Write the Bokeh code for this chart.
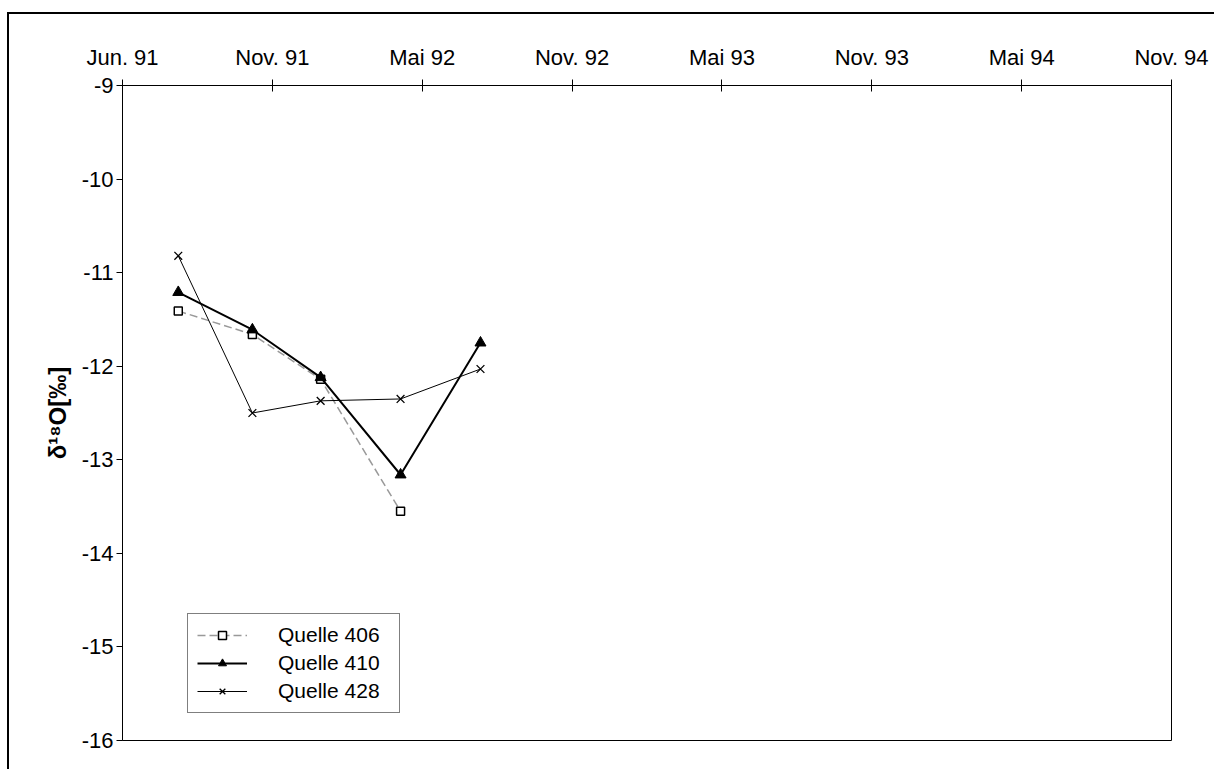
import pandas as pd
from bokeh.plotting import figure
from bokeh.models import Range1d, FixedTicker, Legend, LegendItem
from bokeh.embed import file_html
from bokeh.resources import INLINE

# ---------------- data ----------------
sample_dates = ["1991-08-07", "1991-11-04", "1992-01-25", "1992-04-30", "1992-08-04"]
quelle_406 = [-11.41, -11.66, -12.14, -13.55]          # no value in Aug 92
quelle_410 = [-11.21, -11.61, -12.12, -13.16, -11.75]
quelle_428 = [-10.82, -12.50, -12.37, -12.35, -12.03]

tick_labels = ["Jun. 91", "Nov. 91", "Mai 92", "Nov. 92",
               "Mai 93", "Nov. 93", "Mai 94", "Nov. 94"]
axis_start = "1991-06-01"
tick_step_days = 180
y_ticks = [-16, -15, -14, -13, -12, -11, -10, -9]
y_tick_labels = ["-16", "-15", "-14", "-13", "-12", "-11", "-10", "-9"]
y_title = "δ¹⁸O[‰]"
series_names = ["Quelle 406", "Quelle 410", "Quelle 428"]

# ---------------- helpers ----------------
FONT = "Liberation Sans"
t0 = pd.Timestamp(axis_start)
tick_ms = [float((t0 + pd.Timedelta(days=tick_step_days * i)).value // 10**6)
           for i in range(len(tick_labels))]
x_dates = pd.to_datetime(sample_dates)
d406 = x_dates[:len(quelle_406)]

p = figure(width=1207, height=757, x_axis_type="datetime", x_axis_location="above",
           x_range=Range1d(tick_ms[0], tick_ms[-1]), y_range=Range1d(y_ticks[0], y_ticks[-1]),
           output_backend="svg", toolbar_location=None,
           min_border_left=113, min_border_top=71, min_border_right=45, min_border_bottom=31)
p.styles = {"border-left": "2px solid black", "border-top": "2px solid black",
            "margin-left": "7px", "margin-top": "12px"}

p.grid.visible = False
p.background_fill_color = "white"
p.border_fill_color = "white"
p.outline_line_color = "black"
p.outline_line_width = 1
p.outline_line_alpha = 1

xa = p.xaxis[0]
xa.ticker = FixedTicker(ticks=tick_ms)
xa.major_label_overrides = {t: lab for t, lab in zip(tick_ms, tick_labels)}
xa.major_tick_in = 6
xa.major_tick_out = 6
xa.minor_tick_in = 0
xa.minor_tick_out = 0
xa.axis_line_color = "black"
xa.major_tick_line_color = "black"
xa.major_label_standoff = 10
xa.major_label_text_font = FONT
xa.major_label_text_font_size = "22px"
xa.major_label_text_color = "black"

ya = p.yaxis[0]
ya.ticker = FixedTicker(ticks=[float(t) for t in y_ticks])
ya.major_label_overrides = {float(t): lab for t, lab in zip(y_ticks, y_tick_labels)}
ya.major_tick_in = 0
ya.major_tick_out = 6
ya.minor_tick_in = 0
ya.minor_tick_out = 0
ya.axis_line_color = "black"
ya.major_tick_line_color = "black"
ya.major_label_standoff = 3
ya.major_label_text_font = FONT
ya.major_label_text_font_size = "22px"
ya.major_label_text_color = "black"
ya.axis_label = y_title
ya.axis_label_text_font = FONT
ya.axis_label_text_font_size = "24px"
ya.axis_label_text_font_style = "bold"
ya.axis_label_text_color = "black"
ya.axis_label_standoff = 8

# ---------------- series ----------------
r406l = p.line(d406, quelle_406, line_color="#999999", line_width=1.5, line_dash="8 4")
r406m = p.scatter(d406, quelle_406, marker="square", size=8, fill_color="white",
                  line_color="black", line_width=1.5)
r410l = p.line(x_dates, quelle_410, line_color="black", line_width=2)
r410m = p.scatter(x_dates, quelle_410, marker="triangle", size=11,
                  fill_color="black", line_color="black")
r428l = p.line(x_dates, quelle_428, line_color="black", line_width=1)
r428m = p.scatter(x_dates, quelle_428, marker="x", size=11,
                  line_color="black", line_width=1.3)

legend = Legend(items=[LegendItem(label=series_names[0], renderers=[r406l, r406m]),
                       LegendItem(label=series_names[1], renderers=[r410l, r410m]),
                       LegendItem(label=series_names[2], renderers=[r428l, r428m])],
                location=(65, 27), border_line_color="black", border_line_width=1,
                background_fill_color="white", background_fill_alpha=1,
                padding=9, spacing=4, margin=0, label_height=20, glyph_height=20,
                glyph_width=50, label_standoff=31, label_width=112,
                label_text_font=FONT, label_text_font_size="21px",
                label_text_color="black")
p.add_layout(legend)

open("out.html", "w").write(file_html(p, INLINE))
